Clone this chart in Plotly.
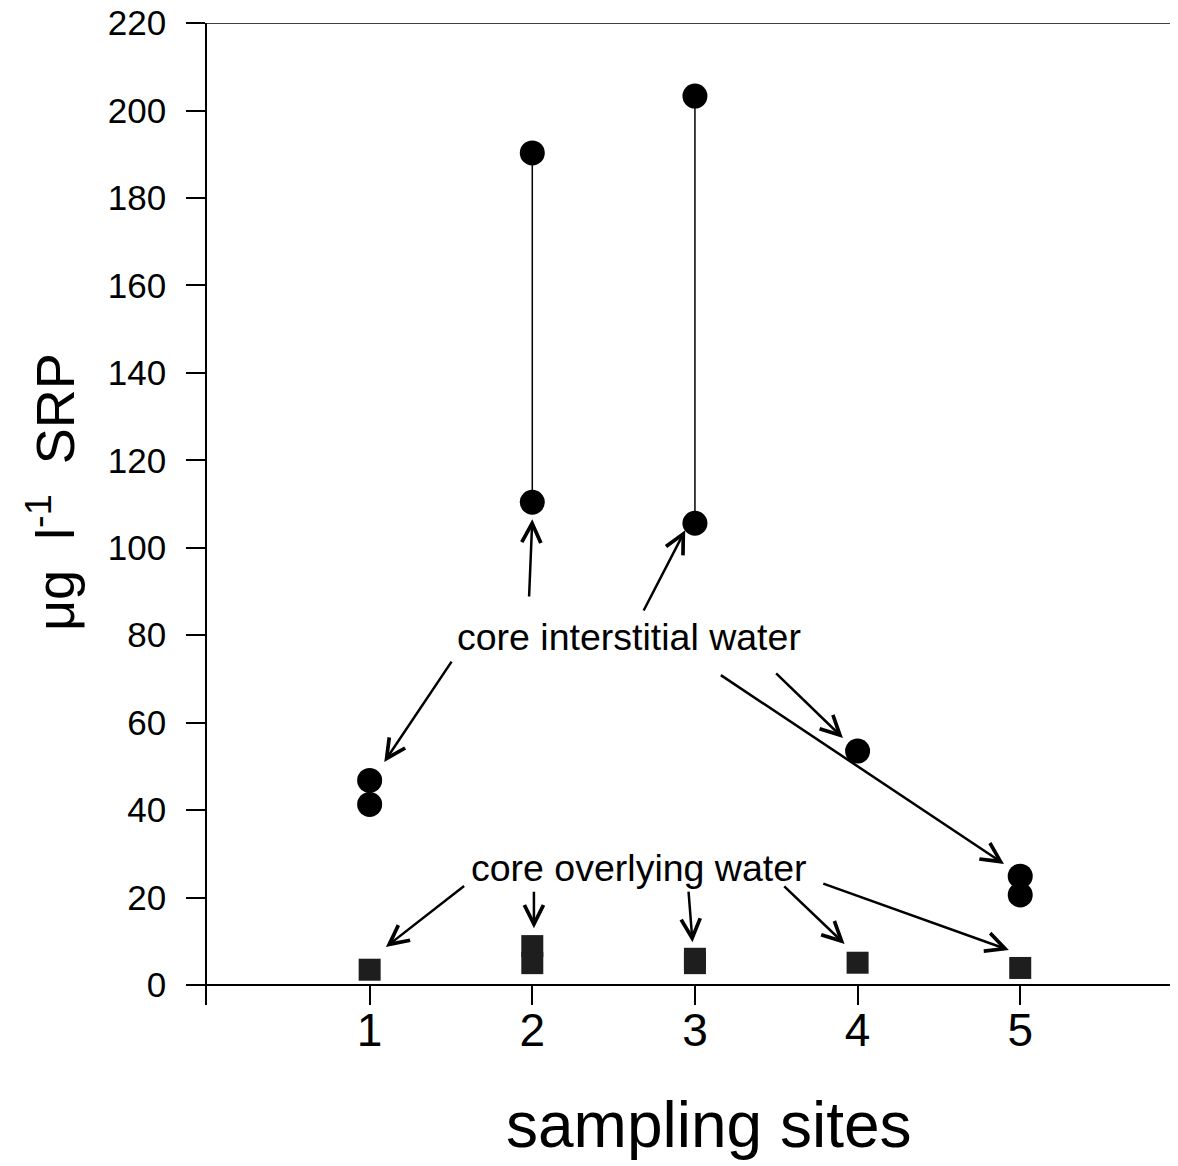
import plotly.graph_objects as go

# ---- data ----
sites = [1, 2, 3, 4, 5]
tick_labels = ["1", "2", "3", "4", "5"]
interstitial_x = [1, 1, 2, 2, 3, 3, 4, 5, 5]
interstitial_y = [46.8, 41.3, 190.3, 110.4, 203.3, 105.6, 53.5, 24.9, 20.6]
overlying_x = [1, 2, 2, 3, 3, 4, 5]
overlying_y = [3.5, 8.9, 5.0, 6.0, 5.0, 5.1, 3.9]

# arrows (head x, head y, tail x, tail y) in data units
inter_arrows = [
    (2.00, 106.5, 1.98, 88.5),
    (2.94, 104.0, 2.68, 85.3),
    (1.09, 51.0, 1.51, 74.3),
    (3.91, 56.5, 3.49, 71.6),
    (4.90, 27.7, 3.15, 71.1),
]
over_arrows = [
    (1.10, 8.7, 1.59, 22.9),
    (2.01, 13.0, 2.01, 21.7),
    (2.985, 9.8, 2.96, 21.7),
    (3.92, 9.4, 3.54, 22.9),
    (4.93, 8.0, 3.78, 23.3),
]

FONT = "Liberation Sans, Arial, sans-serif"

# vertical connectors for interstitial pairs
lx, ly = [], []
for s in sites:
    ys = [y for x, y in zip(interstitial_x, interstitial_y) if x == s]
    if len(ys) > 1:
        lx += [s, s, None]
        ly += [min(ys), max(ys), None]

fig = go.Figure()
fig.add_trace(go.Scatter(x=lx, y=ly, mode="lines",
                         line=dict(color="black", width=1.5),
                         hoverinfo="skip", showlegend=False))
fig.add_trace(go.Scatter(x=interstitial_x, y=interstitial_y, mode="markers",
                         marker=dict(symbol="circle", size=25, color="black"),
                         name="core interstitial water", showlegend=False))
fig.add_trace(go.Scatter(x=overlying_x, y=overlying_y, mode="markers",
                         marker=dict(symbol="square", size=22, color="#1e1e1e",
                                     line=dict(width=0)),
                         name="core overlying water", showlegend=False))

annotations = []
for hx, hy, tx, ty in inter_arrows + over_arrows:
    annotations.append(dict(x=hx, y=hy, ax=tx, ay=ty, xref="x", yref="y",
                            axref="x", ayref="y", text="", showarrow=True,
                            arrowhead=5, arrowsize=1.5, arrowwidth=2.5,
                            arrowcolor="black", standoff=0))
annotations.append(dict(x=2.595, y=79.6, xref="x", yref="y",
                        text="core interstitial water", showarrow=False,
                        font=dict(family=FONT, size=37.5, color="black")))
annotations.append(dict(x=2.657, y=26.8, xref="x", yref="y",
                        text="core overlying water", showarrow=False,
                        font=dict(family=FONT, size=37.5, color="black")))
annotations.append(dict(x=0.517, y=-0.122, xref="paper", yref="paper",
                        text="sampling sites", showarrow=False,
                        xanchor="center", yanchor="middle",
                        font=dict(family=FONT, size=64, color="black")))
annotations.append(dict(x=-0.16, y=0.522, xref="paper", yref="paper",
                        text="μg&nbsp;&nbsp;l<sup>-1</sup>&nbsp;&nbsp;SRP", showarrow=False,
                        textangle=-90, xanchor="center", yanchor="middle",
                        font=dict(family=FONT, size=54, color="black")))

fig.update_layout(
    width=1170, height=1158,
    margin=dict(l=199, r=0, t=15, b=161, autoexpand=False),
    paper_bgcolor="white", plot_bgcolor="white",
    font=dict(family=FONT, color="black"),
    annotations=annotations,
    shapes=[dict(type="line", xref="paper", yref="y", x0=-0.02, x1=1,
                 y0=220, y1=220, line=dict(color="black", width=1.5))],
    xaxis=dict(range=[0, 5.97], tickmode="array", tickvals=sites,
               ticktext=tick_labels, ticks="inside", ticklen=20,
               tickwidth=2, tickcolor="black", showline=False,
               showgrid=False, zeroline=False, automargin=False,
               tickfont=dict(family=FONT, size=46, color="black"),
               ticklabelstandoff=-6),
    yaxis=dict(range=[-4.57, 220.01], tickmode="linear", tick0=0, dtick=20,
               ticks="outside", ticklen=19, tickwidth=1.5, tickcolor="black",
               showline=True, linecolor="black", linewidth=1.5,
               showgrid=False, zeroline=True, zerolinecolor="black",
               zerolinewidth=1.5, ticklabeloverflow="allow", automargin=False,
               tickfont=dict(family=FONT, size=35, color="black"),
               ticklabelstandoff=13),
)

fig.write_html("out.html")
